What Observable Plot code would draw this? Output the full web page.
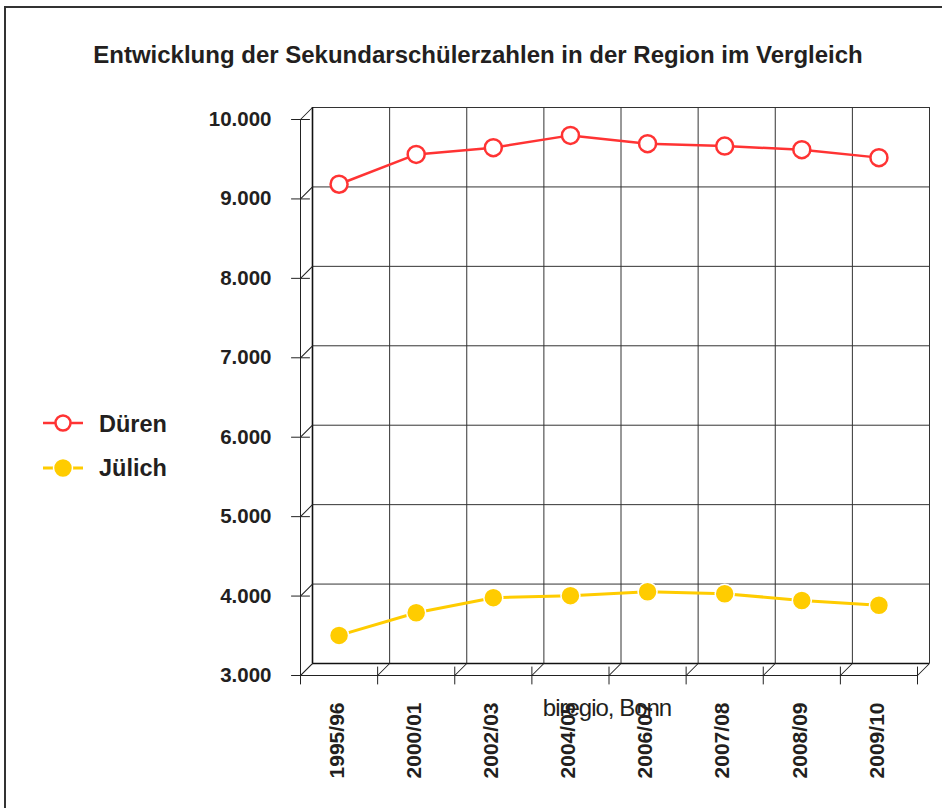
<!DOCTYPE html>
<html>
<head>
<meta charset="utf-8">
<script src="https://cdn.jsdelivr.net/npm/d3@7"></script>
<script src="https://cdn.jsdelivr.net/npm/@observablehq/plot@0.6"></script>
<style>
html,body{margin:0;padding:0;background:#fff;overflow:hidden}
#wrap{position:relative;width:942px;height:808px;font-family:"Liberation Sans",Arial,sans-serif;color:#231f20;overflow:hidden}
#frame{position:absolute;left:4px;top:6px;width:980px;height:840px;border:2px solid #333;box-sizing:border-box}
#chart{position:absolute;left:0;top:0}
#title{position:absolute;left:0;width:956px;top:42.7px;text-align:center;font-weight:bold;font-size:24px;line-height:24px;white-space:nowrap}
#legend{position:absolute;left:0;top:380px}
#caption{position:absolute;left:457px;width:300px;top:695.7px;text-align:center;font-size:24px;line-height:24px;letter-spacing:-1px;color:#231f20;white-space:nowrap}
g[aria-label="y-tick-label"] text{letter-spacing:-0.8px}
</style>
</head>
<body>
<div id="wrap">
  <div id="frame"></div>
  <div id="chart"></div>
  <div id="title"></div>
  <svg id="legend" width="220" height="120"></svg>
  <div id="caption"></div>
</div>
<script>
// ---- data ----
const chartTitle = "Entwicklung der Sekundarschülerzahlen in der Region im Vergleich";
const caption = "biregio, Bonn";
const years = ["1995/96", "2000/01", "2002/03", "2004/05", "2006/07", "2007/08", "2008/09", "2009/10"];
const duren = [9185, 9560, 9645, 9800, 9695, 9665, 9620, 9520];
const julich = [3505, 3790, 3980, 4005, 4055, 4030, 3945, 3885];
const yTicks = [3000, 4000, 5000, 6000, 7000, 8000, 9000, 10000];
const seriesNames = ["Düren", "Jülich"];
const seriesColors = ["#ff3333", "#ffcc00"];

// ---- derived table ----
const rows = years.map((year, i) => ({year, pos: i + 0.5, duren: duren[i], julich: julich[i]}));
const edges = d3.range(years.length + 1);
const fmt = d3.formatLocale({decimal: ",", thousands: ".", grouping: [3], currency: ["", "€"]}).format(",d");
const OFF = 12; // pseudo-3D depth
const lineShape = {draw(ctx, l) { ctx.moveTo(0, 0); ctx.lineTo(0, -l); }};
const yMin = yTicks[0], yMax = yTicks[yTicks.length - 1];
const nX = years.length;

const plot = Plot.plot({
  width: 942,
  height: 808,
  marginLeft: 300,
  marginRight: 25,
  marginTop: 119,
  marginBottom: 133,
  x: {type: "linear", domain: [0, nX], axis: null},
  y: {type: "linear", domain: [yMin, yMax], axis: null},
  style: {fontFamily: '"Liberation Sans", Arial, sans-serif', background: "transparent", color: "#231f20", overflow: "visible"},
  marks: [
    // back wall grid
    Plot.ruleY(yTicks, {y: d => d, x1: 0, x2: nX, dx: OFF, dy: -OFF, stroke: "#333", strokeWidth: 1}),
    Plot.ruleX(edges, {x: d => d, y1: yMin, y2: yMax, dx: OFF, dy: -OFF, stroke: "#333", strokeWidth: 1}),
    Plot.ruleX([0], {x: d => d, y1: yMin, y2: yMax, dx: OFF, dy: -OFF, stroke: "#111", strokeWidth: 1.6}),
    Plot.ruleY([yMin], {y: d => d, x1: 0, x2: nX, dx: OFF, dy: -OFF, stroke: "#111", strokeWidth: 1.6}),
    // front axes
    Plot.ruleX([0], {x: d => d, y1: yMin, y2: yMax, stroke: "#222", strokeWidth: 1}),
    Plot.ruleY([yMin], {y: d => d, x1: 0, x2: nX, stroke: "#222", strokeWidth: 1}),
    // depth diagonals
    Plot.vector(yTicks, {x: 0, y: d => d, length: OFF * Math.SQRT2, rotate: 45, anchor: "start", shape: lineShape, stroke: "#222", strokeWidth: 1}),
    Plot.vector(edges, {x: d => d, y: yMin, length: OFF * Math.SQRT2, rotate: 45, anchor: "start", shape: lineShape, stroke: "#222", strokeWidth: 1}),
    // crossing ticks
    Plot.vector(yTicks, {x: 0, y: d => d, length: 18, rotate: 90, anchor: "middle", shape: lineShape, stroke: "#222", strokeWidth: 1}),
    Plot.vector(edges, {x: d => d, y: yMin, length: 17, rotate: 0, anchor: "middle", shape: lineShape, stroke: "#222", strokeWidth: 1}),
    // tick labels
    Plot.text(yTicks, {x: 0, y: d => d, text: d => fmt(d), textAnchor: "end", dx: -29, fontSize: 20.5, fontWeight: "bold", fill: "#231f20", ariaLabel: "y-tick-label"}),
    Plot.text(rows, {x: "pos", y: yMin, text: "year", rotate: -90, textAnchor: "end", dx: -2, dy: 27, fontSize: 21, fontWeight: "bold", fill: "#231f20"}),
    // series
    Plot.line(rows, {x: "pos", y: "duren", stroke: seriesColors[0], strokeWidth: 2.5}),
    Plot.dot(rows, {x: "pos", y: "duren", r: 8.5, fill: "white", stroke: seriesColors[0], strokeWidth: 2.5}),
    Plot.line(rows, {x: "pos", y: "julich", stroke: seriesColors[1], strokeWidth: 3}),
    Plot.dot(rows, {x: "pos", y: "julich", r: 9.5, fill: seriesColors[1], stroke: "white", strokeWidth: 1.5})
  ]
});
document.getElementById("chart").appendChild(plot);
document.getElementById("title").textContent = chartTitle;
document.getElementById("caption").textContent = caption;

// legend
const lg = d3.select("#legend");
const legendRows = [{name: seriesNames[0], color: seriesColors[0], open: true, y: 43, ty: 52},
                    {name: seriesNames[1], color: seriesColors[1], open: false, y: 88, ty: 96}];
legendRows.forEach(r => {
  lg.append("line").attr("x1", 43).attr("x2", 83).attr("y1", r.y).attr("y2", r.y)
    .attr("stroke", r.color).attr("stroke-width", r.open ? 2.5 : 3);
  lg.append("circle").attr("cx", 63).attr("cy", r.y).attr("r", r.open ? 7.5 : 9.5)
    .attr("fill", r.open ? "white" : r.color).attr("stroke", r.open ? r.color : "white")
    .attr("stroke-width", r.open ? 2.5 : 1.5);
  lg.append("text").attr("x", 99).attr("y", r.ty).text(r.name)
    .attr("font-family", '"Liberation Sans", Arial, sans-serif').attr("font-weight", "bold")
    .attr("font-size", 23.5).attr("fill", "#231f20");
});
</script>
</body>
</html>
